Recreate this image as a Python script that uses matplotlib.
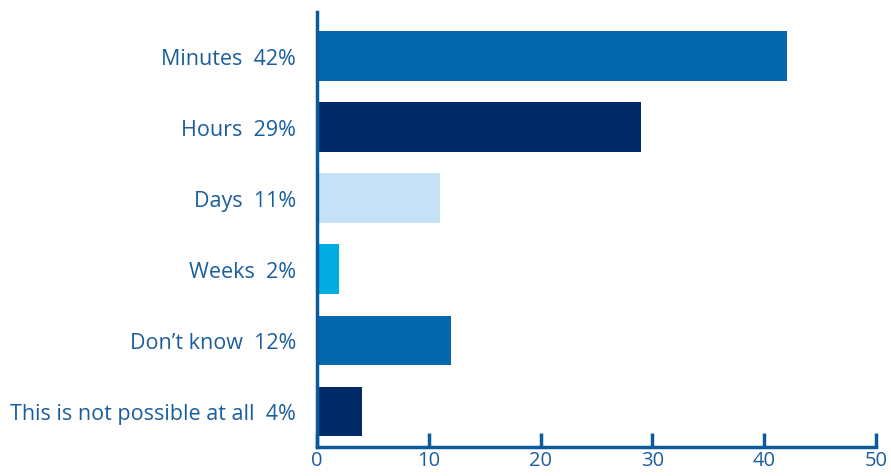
import matplotlib
matplotlib.use("Agg")
import matplotlib.pyplot as plt

categories = ["Minutes", "Hours", "Days", "Weeks", "Don\u2019t know", "This is not possible at all"]
values = [42, 29, 11, 2, 12, 4]
colors = ["#0567AE", "#002B66", "#C5E1F5", "#00ADE0", "#0567AE", "#002B66"]
xticks = [0, 10, 20, 30, 40, 50]

text_color = "#1A5E9E"
axis_color = "#0A5A9C"

plt.rcParams['font.family'] = ['Open Sans', 'DejaVu Sans']

fig = plt.figure(figsize=(8.91, 4.77), dpi=100)
ax = fig.add_axes([317/891, 29/477, (876-317)/891, (448-13)/477])

ypos = list(range(len(categories)))
ax.barh(ypos, values, height=0.7, color=colors)
ax.set_ylim(len(categories) - 0.5, -0.62)
ax.set_xlim(0, 50)

ax.set_yticks(ypos)
ax.set_yticklabels([f"{c}  {v}%" for c, v in zip(categories, values)],
                   fontsize=15.5, color=text_color)
ax.set_xticks(xticks)
ax.set_xticklabels([str(t) for t in xticks], fontsize=14.5, color=text_color)

ax.tick_params(axis='y', length=0, pad=15)
ax.tick_params(axis='x', direction='in', length=10, width=2.5, color=axis_color, pad=2)

for s in ['top', 'right']:
    ax.spines[s].set_visible(False)
for s in ['left', 'bottom']:
    ax.spines[s].set_color(axis_color)
    ax.spines[s].set_linewidth(2.5)

fig.savefig("out.png", dpi=100)
